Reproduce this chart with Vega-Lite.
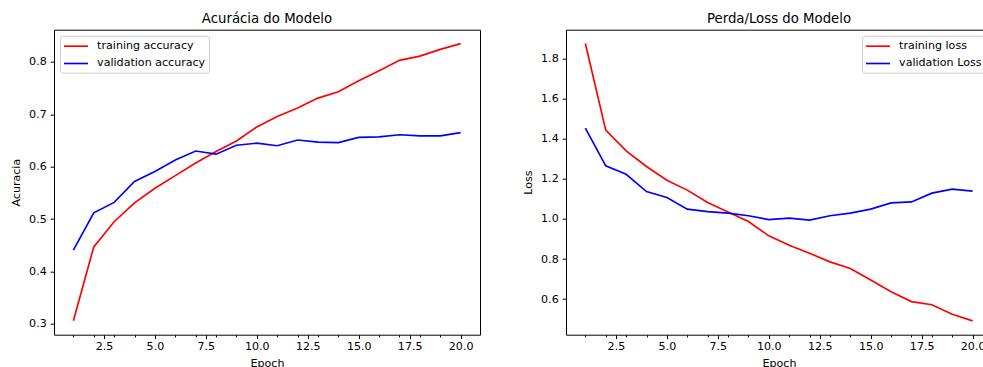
{
  "$schema": "https://vega.github.io/schema/vega-lite/v6.json",
  "padding": {"left": 10, "top": 10.7, "right": -5, "bottom": 0},
  "background": "white",
  "bounds": "flush",
  "spacing": 86,
  "config": {
    "font": "DejaVu Sans",
    "view": {"stroke": "#000000", "strokeWidth": 1},
    "axis": {
      "grid": false,
      "domain": false,
      "tickColor": "#000000",
      "labelColor": "#000000",
      "titleColor": "#000000",
      "labelFontSize": 11.1,
      "titleFontSize": 11.1,
      "titleFontWeight": "normal",
      "tickSize": 3.9,
      "labelPadding": 3.9,
      "labelOverlap": false,
      "labelFlush": false
    },
    "title": {"fontSize": 13.3, "fontWeight": "normal", "color": "#000000", "offset": 4.3},
    "legend": {
      "title": null,
      "symbolType": "M-2,0H2",
      "symbolSize": 144,
      "symbolStrokeWidth": 1.67,
      "symbolOffset": 5.5,
      "labelFontSize": 11.1,
      "labelColor": "#000000",
      "labelOffset": 14.1,
      "padding": 3.5,
      "rowPadding": 4.3,
      "offset": 6,
      "fillColor": "rgba(255,255,255,0.8)",
      "strokeColor": "#cccccc",
      "cornerRadius": 3
    }
  },
  "datasets": {
    "acc": [
      {"epoch": 1, "series": "training accuracy", "value": 0.306},
      {"epoch": 2, "series": "training accuracy", "value": 0.447},
      {"epoch": 3, "series": "training accuracy", "value": 0.495},
      {"epoch": 4, "series": "training accuracy", "value": 0.531},
      {"epoch": 5, "series": "training accuracy", "value": 0.559},
      {"epoch": 6, "series": "training accuracy", "value": 0.583},
      {"epoch": 7, "series": "training accuracy", "value": 0.607},
      {"epoch": 8, "series": "training accuracy", "value": 0.629},
      {"epoch": 9, "series": "training accuracy", "value": 0.649},
      {"epoch": 10, "series": "training accuracy", "value": 0.676},
      {"epoch": 11, "series": "training accuracy", "value": 0.696},
      {"epoch": 12, "series": "training accuracy", "value": 0.712},
      {"epoch": 13, "series": "training accuracy", "value": 0.731},
      {"epoch": 14, "series": "training accuracy", "value": 0.743},
      {"epoch": 15, "series": "training accuracy", "value": 0.764},
      {"epoch": 16, "series": "training accuracy", "value": 0.783},
      {"epoch": 17, "series": "training accuracy", "value": 0.803},
      {"epoch": 18, "series": "training accuracy", "value": 0.811},
      {"epoch": 19, "series": "training accuracy", "value": 0.824},
      {"epoch": 20, "series": "training accuracy", "value": 0.835},
      {"epoch": 1, "series": "validation accuracy", "value": 0.441},
      {"epoch": 2, "series": "validation accuracy", "value": 0.512},
      {"epoch": 3, "series": "validation accuracy", "value": 0.532},
      {"epoch": 4, "series": "validation accuracy", "value": 0.572},
      {"epoch": 5, "series": "validation accuracy", "value": 0.591},
      {"epoch": 6, "series": "validation accuracy", "value": 0.613},
      {"epoch": 7, "series": "validation accuracy", "value": 0.630},
      {"epoch": 8, "series": "validation accuracy", "value": 0.624},
      {"epoch": 9, "series": "validation accuracy", "value": 0.641},
      {"epoch": 10, "series": "validation accuracy", "value": 0.645},
      {"epoch": 11, "series": "validation accuracy", "value": 0.640},
      {"epoch": 12, "series": "validation accuracy", "value": 0.651},
      {"epoch": 13, "series": "validation accuracy", "value": 0.647},
      {"epoch": 14, "series": "validation accuracy", "value": 0.646},
      {"epoch": 15, "series": "validation accuracy", "value": 0.656},
      {"epoch": 16, "series": "validation accuracy", "value": 0.657},
      {"epoch": 17, "series": "validation accuracy", "value": 0.661},
      {"epoch": 18, "series": "validation accuracy", "value": 0.659},
      {"epoch": 19, "series": "validation accuracy", "value": 0.659},
      {"epoch": 20, "series": "validation accuracy", "value": 0.665}
    ],
    "loss": [
      {"epoch": 1, "series": "training loss", "value": 1.875},
      {"epoch": 2, "series": "training loss", "value": 1.443},
      {"epoch": 3, "series": "training loss", "value": 1.340},
      {"epoch": 4, "series": "training loss", "value": 1.262},
      {"epoch": 5, "series": "training loss", "value": 1.193},
      {"epoch": 6, "series": "training loss", "value": 1.144},
      {"epoch": 7, "series": "training loss", "value": 1.082},
      {"epoch": 8, "series": "training loss", "value": 1.035},
      {"epoch": 9, "series": "training loss", "value": 0.987},
      {"epoch": 10, "series": "training loss", "value": 0.916},
      {"epoch": 11, "series": "training loss", "value": 0.869},
      {"epoch": 12, "series": "training loss", "value": 0.829},
      {"epoch": 13, "series": "training loss", "value": 0.786},
      {"epoch": 14, "series": "training loss", "value": 0.753},
      {"epoch": 15, "series": "training loss", "value": 0.696},
      {"epoch": 16, "series": "training loss", "value": 0.637},
      {"epoch": 17, "series": "training loss", "value": 0.588},
      {"epoch": 18, "series": "training loss", "value": 0.572},
      {"epoch": 19, "series": "training loss", "value": 0.525},
      {"epoch": 20, "series": "training loss", "value": 0.492},
      {"epoch": 1, "series": "validation Loss", "value": 1.453},
      {"epoch": 2, "series": "validation Loss", "value": 1.265},
      {"epoch": 3, "series": "validation Loss", "value": 1.223},
      {"epoch": 4, "series": "validation Loss", "value": 1.137},
      {"epoch": 5, "series": "validation Loss", "value": 1.107},
      {"epoch": 6, "series": "validation Loss", "value": 1.049},
      {"epoch": 7, "series": "validation Loss", "value": 1.037},
      {"epoch": 8, "series": "validation Loss", "value": 1.029},
      {"epoch": 9, "series": "validation Loss", "value": 1.016},
      {"epoch": 10, "series": "validation Loss", "value": 0.997},
      {"epoch": 11, "series": "validation Loss", "value": 1.004},
      {"epoch": 12, "series": "validation Loss", "value": 0.994},
      {"epoch": 13, "series": "validation Loss", "value": 1.016},
      {"epoch": 14, "series": "validation Loss", "value": 1.029},
      {"epoch": 15, "series": "validation Loss", "value": 1.049},
      {"epoch": 16, "series": "validation Loss", "value": 1.080},
      {"epoch": 17, "series": "validation Loss", "value": 1.085},
      {"epoch": 18, "series": "validation Loss", "value": 1.129},
      {"epoch": 19, "series": "validation Loss", "value": 1.149},
      {"epoch": 20, "series": "validation Loss", "value": 1.139}
    ]
  },
  "resolve": {
    "scale": {"x": "independent", "y": "independent", "color": "independent"},
    "legend": {"color": "independent"}
  },
  "hconcat": [
    {
      "width": 426,
      "height": 305,
      "title": {"text": "Acurácia do Modelo"},
      "data": {"name": "acc"},
      "mark": {"type": "line", "strokeWidth": 1.67},
      "encoding": {
        "x": {
          "field": "epoch", "type": "quantitative",
          "scale": {"domain": [0.05, 20.95], "nice": false, "zero": false},
          "axis": {
            "title": "Epoch",
            "titlePadding": 5.9,
            "labelPadding": 2.4,
            "values": [1, 2, 2.5, 3, 4, 5, 6, 7, 7.5, 8, 9, 10, 11, 12, 12.5, 13, 14, 15, 16, 17, 17.5, 18, 19, 20],
            "labelExpr": "datum.value % 2.5 === 0 ? format(datum.value, '.1f') : ''",
            "tickSize": {"condition": {"test": "datum.value % 2.5 === 0", "value": 3.9}, "value": 2.2}
          }
        },
        "y": {
          "field": "value", "type": "quantitative",
          "scale": {"domain": [0.2795, 0.8615], "nice": false, "zero": false},
          "axis": {"title": "Acuracia", "titlePadding": 7, "values": [0.3, 0.4, 0.5, 0.6, 0.7, 0.8], "format": ".1f"}
        },
        "color": {
          "field": "series", "type": "nominal",
          "scale": {"domain": ["training accuracy", "validation accuracy"], "range": ["#ff0000", "#0000ff"]},
          "legend": {"orient": "top-left"}
        }
      }
    },
    {
      "width": 426,
      "height": 305,
      "title": {"text": "Perda/Loss do Modelo"},
      "data": {"name": "loss"},
      "mark": {"type": "line", "strokeWidth": 1.67},
      "encoding": {
        "x": {
          "field": "epoch", "type": "quantitative",
          "scale": {"domain": [0.05, 20.95], "nice": false, "zero": false},
          "axis": {
            "title": "Epoch",
            "titlePadding": 5.9,
            "labelPadding": 2.4,
            "values": [1, 2, 2.5, 3, 4, 5, 6, 7, 7.5, 8, 9, 10, 11, 12, 12.5, 13, 14, 15, 16, 17, 17.5, 18, 19, 20],
            "labelExpr": "datum.value % 2.5 === 0 ? format(datum.value, '.1f') : ''",
            "tickSize": {"condition": {"test": "datum.value % 2.5 === 0", "value": 3.9}, "value": 2.2}
          }
        },
        "y": {
          "field": "value", "type": "quantitative",
          "scale": {"domain": [0.4229, 1.9441], "nice": false, "zero": false},
          "axis": {"title": "Loss", "titlePadding": 7, "values": [0.6, 0.8, 1.0, 1.2, 1.4, 1.6, 1.8], "format": ".1f"}
        },
        "color": {
          "field": "series", "type": "nominal",
          "scale": {"domain": ["training loss", "validation Loss"], "range": ["#ff0000", "#0000ff"]},
          "legend": {"orient": "top-right"}
        }
      }
    }
  ]
}
